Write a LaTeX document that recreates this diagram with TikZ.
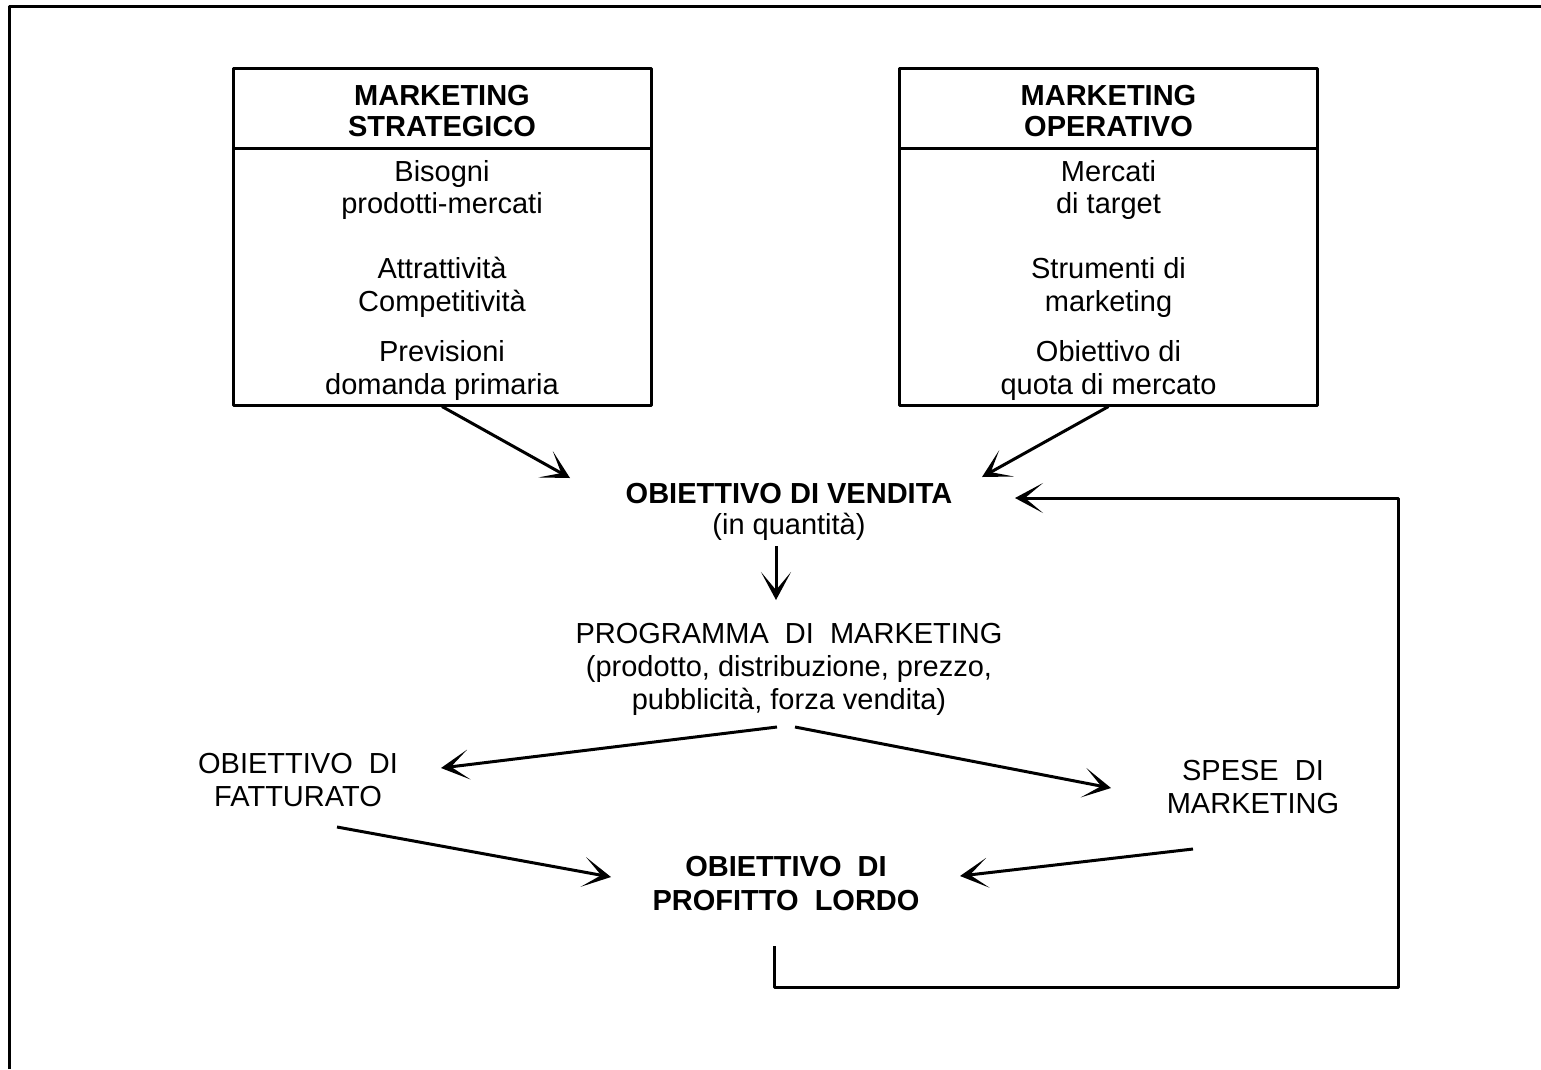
\documentclass[tikz,border=0pt]{standalone}
\usepackage{fontspec}
\setmainfont{Liberation Sans}
\usetikzlibrary{arrows.meta}
\begin{document}
\begin{tikzpicture}[x=1pt, y=-1pt, line width=3pt, line join=round,
		>={Stealth[length=28pt, width=30pt, inset=18pt]},
		font=\fontsize{29}{33}\selectfont,
		every node/.style={align=center, inner sep=0pt},
		headbox/.style={draw, minimum width=418pt, minimum height=80pt, font=\fontsize{29}{31}\selectfont\bfseries},
		bodybox/.style={draw, minimum width=418pt, minimum height=257pt}]
		\useasboundingbox (0,0) rectangle (1541,1069);
		\draw (9,1069) -- (9,6) -- (1541,6);
		% the two boxes
		\node[headbox] (strathead) at (442,108) {\rule{0pt}{26pt}MARKETING\\STRATEGICO};
		\node[bodybox] (strat) at (442,276.5) {\rule{0pt}{28pt}Bisogni\\prodotti-mercati\\[31pt]Attrattività\\Competitività\\[17pt]Previsioni\\domanda primaria};
		\node[headbox] (operhead) at (1108.5,108) {\rule{0pt}{26pt}MARKETING\\OPERATIVO};
		\node[bodybox] (oper) at (1108.5,276.5) {\rule{0pt}{28pt}Mercati\\di target\\[31pt]Strumenti di\\marketing\\[17pt]Obiettivo di\\quota di mercato};
		% the goals
		\node (vendita) at (789,512) {\textbf{OBIETTIVO DI VENDITA}\\[-2pt](in quantità)};
		\node (programma) at (789,669) {PROGRAMMA\ \ DI\ \ MARKETING\\(prodotto, distribuzione, prezzo,\\pubblicità, forza vendita)};
		\node (fatturato) at (298,780) {OBIETTIVO\ \ DI\\FATTURATO};
		\node (spese) at (1253,787) {SPESE\ \ DI\\MARKETING};
		\node[font=\fontsize{29}{34}\selectfont\bfseries] (profitto) at (786,883) {OBIETTIVO\ \ DI\\PROFITTO\ \ LORDO};
		% ends of the connectors
		\coordinate (vendL) at (570,478);
		\coordinate (vendR) at (982,477);
		\coordinate (vendFb) at (1015,498);
		\coordinate (vendDn) at (776,546);
		\coordinate (progUp) at (776,600);
		\coordinate (progL) at (777,727);
		\coordinate (progR) at (795,727);
		\coordinate (fattIn) at (441,768);
		\coordinate (fattOut) at (337,827);
		\coordinate (speseIn) at (1111,788);
		\coordinate (speseOut) at (1193,849);
		\coordinate (profL) at (611,877);
		\coordinate (profR) at (960,876);
		\coordinate (profOut) at (774,946);
		\coordinate (loop) at (1398,987);
		\draw[->] (strat.south) -- (vendL);
		\draw[->] (oper.south) -- (vendR);
		\draw[->] (vendDn) -- (progUp);
		\draw[->] (progL) -- (fattIn);
		\draw[->] (progR) -- (speseIn);
		\draw[->] (fattOut) -- (profL);
		\draw[->] (speseOut) -- (profR);
		\draw[->] (profOut) |- (loop) |- (vendFb);
\end{tikzpicture}
\end{document}
